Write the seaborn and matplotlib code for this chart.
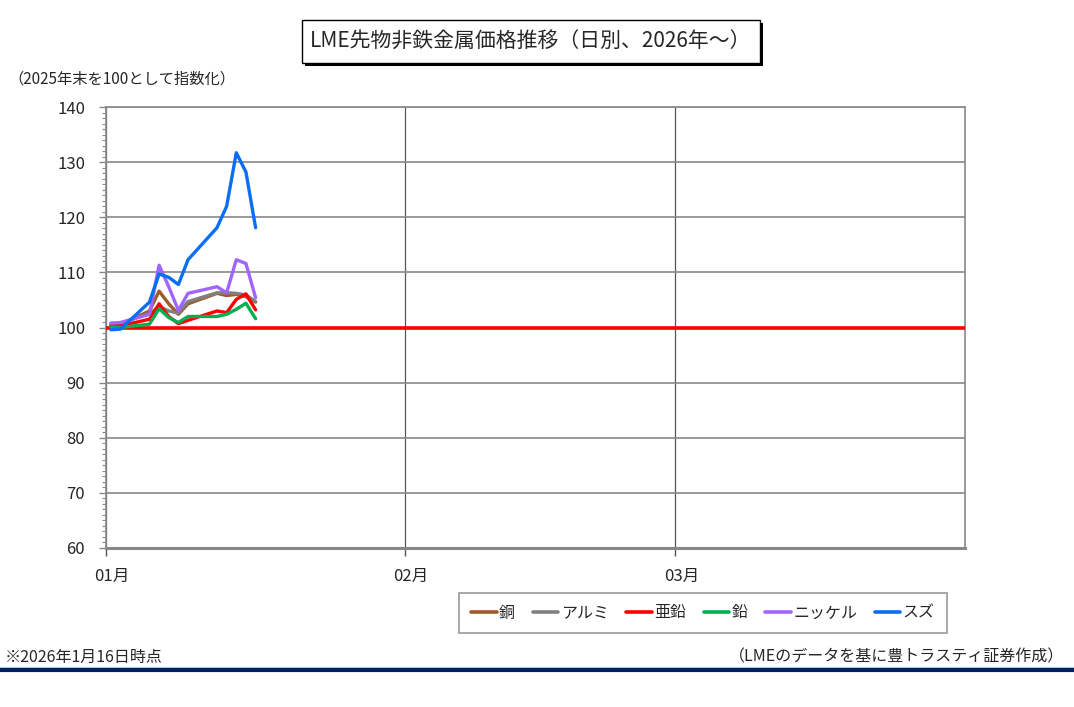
import pandas as pd
import matplotlib
matplotlib.use("Agg")
import matplotlib.pyplot as plt
import matplotlib.dates as mdates
from matplotlib.patches import Rectangle
from matplotlib.lines import Line2D
from matplotlib.ticker import MultipleLocator
from matplotlib.transforms import ScaledTranslation
import seaborn as sns

# LME daily prices, index (end of 2025 = 100)
dates = ["2026-01-01", "2026-01-02", "2026-01-05", "2026-01-06", "2026-01-07",
         "2026-01-08", "2026-01-09", "2026-01-12", "2026-01-13", "2026-01-14",
         "2026-01-15", "2026-01-16"]
copper = [100.3, 100.5, 103.0, 106.6, 104.3, 102.4, 104.3, 106.2, 105.8, 106.0, 105.6, 104.6]
aluminium = [100.6, 100.8, 102.5, 103.8, 103.0, 102.6, 104.7, 106.3, 106.3, 106.2, 105.9, 104.7]
zinc = [100.3, 100.3, 101.5, 104.3, 102.0, 100.7, 101.3, 103.0, 102.7, 105.1, 106.1, 103.2]
lead = [100.1, 100.0, 100.6, 103.4, 101.8, 100.9, 102.0, 102.0, 102.4, 103.3, 104.4, 101.6]
nickel = [100.8, 100.9, 102.4, 111.3, 107.4, 103.1, 106.2, 107.4, 106.3, 112.3, 111.6, 105.4]
tin = [99.6, 99.7, 104.6, 109.7, 109.1, 107.8, 112.3, 118.1, 122.0, 131.7, 128.2, 118.1]

metals = ["銅", "アルミ", "亜鉛", "鉛", "ニッケル", "スズ"]
colors = ["#9C5B27", "#808080", "#FF0000", "#00B050", "#A064FF", "#0A6EF5"]
base = 100

df = pd.DataFrame({"date": pd.to_datetime(dates)})
for name, vals in zip(metals, [copper, aluminium, zinc, lead, nickel, tin]):
    df[name] = vals
long = df.melt(id_vars="date", var_name="metal", value_name="index")
# Excel date axis puts each point in the middle of its day
long["x"] = long["date"] + pd.Timedelta(hours=12)

sns.set_style("white")
plt.rcParams["font.family"] = ["Noto Sans CJK JP", "DejaVu Sans"]

fig = plt.figure(figsize=(10.74, 7.07), dpi=100)
ax = fig.add_axes([106 / 1074, 1 - 548 / 707, (965 - 106) / 1074, (548 - 107) / 707])

ax.axhline(base, color="#FF0000", lw=2.6, zorder=3)
sns.lineplot(data=long, x="x", y="index", hue="metal", hue_order=metals,
             palette=colors, lw=2.4, ax=ax, legend=False, zorder=4)

ax.set_xlim(pd.Timestamp("2026-01-01"), pd.Timestamp("2026-03-31"))
ax.set_ylim(60, 140)
ax.yaxis.set_major_locator(MultipleLocator(10))
ax.yaxis.set_minor_locator(MultipleLocator(1))
ax.xaxis.set_major_locator(mdates.MonthLocator())
ax.xaxis.set_major_formatter(mdates.DateFormatter("%m月"))
ax.set_xlabel("")
ax.set_ylabel("")

ax.grid(axis="y", color="#888888", lw=1.2)
ax.grid(axis="x", color="#555555", lw=0.9)
for s in ["top", "right", "left"]:
    ax.spines[s].set_color("#888888")
    ax.spines[s].set_linewidth(1.2)
ax.spines["bottom"].set_color("#888888")
ax.spines["bottom"].set_linewidth(2.2)
ax.spines["bottom"].set_zorder(5)

ax.tick_params(axis="y", which="major", direction="out", length=5, width=1, color="#888888",
               labelsize=12, pad=10, left=True)
ax.tick_params(axis="y", which="minor", direction="out", length=3, width=0.8, color="#888888", left=True)
ax.tick_params(axis="x", which="major", direction="out", length=6, width=1, color="#555555",
               labelsize=12, pad=8, bottom=True)
shift = ScaledTranslation(0.06, 0, fig.dpi_scale_trans)
for lab in ax.get_xticklabels():
    lab.set_horizontalalignment("center")
    lab.set_transform(lab.get_transform() + shift)

# title box with shadow
fig.patches.append(Rectangle((305 / 1074, 1 - 66 / 707), 458 / 1074, 43 / 707,
                             transform=fig.transFigure, facecolor="black", edgecolor="none"))
fig.patches.append(Rectangle((302 / 1074, 1 - 63 / 707), 458 / 1074, 43 / 707,
                             transform=fig.transFigure, facecolor="white", edgecolor="black", lw=1))
fig.text(531 / 1074, 1 - 42 / 707, "LME先物非鉄金属価格推移（日別、2026年～）",
         ha="center", va="center", fontsize=15)

fig.text(8 / 1074, 1 - 79 / 707, "（2025年末を100として指数化）", ha="left", va="center", fontsize=11)

handles = [Line2D([], [], color=c, lw=2.6) for c in colors]
leg = fig.legend(handles, metals, ncol=6, loc="center", bbox_to_anchor=(703 / 1074, 1 - 613 / 707),
                 frameon=True, fancybox=False, fontsize=11.5, handlelength=1.6, handletextpad=0.15,
                 columnspacing=1.1, borderpad=0.75, borderaxespad=0)
leg.get_frame().set_edgecolor("#808080")
leg.get_frame().set_linewidth(1.2)

fig.text(5 / 1074, 1 - 657 / 707, "※2026年1月16日時点", ha="left", va="center", fontsize=11.5)
fig.text(1064 / 1074, 1 - 657 / 707, "（LMEのデータを基に豊トラスティ証券作成）", ha="right", va="center", fontsize=11.5)

fig.lines.append(Line2D([0, 1], [1 - 667 / 707, 1 - 667 / 707], transform=fig.transFigure,
                        color="#BDD7EE", lw=1))
fig.lines.append(Line2D([0, 1], [1 - 670 / 707, 1 - 670 / 707], transform=fig.transFigure,
                        color="#002060", lw=3))

fig.savefig("out.png", dpi=100, facecolor="white")
